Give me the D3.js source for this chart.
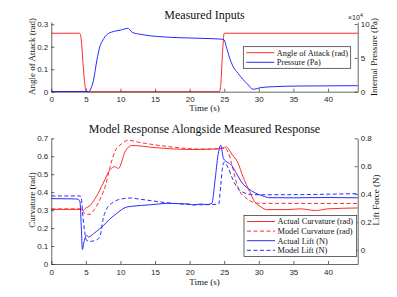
<!DOCTYPE html>
<html>
<head>
<meta charset="utf-8">
<script src="https://cdn.jsdelivr.net/npm/d3@7"></script>
<style>
  body { margin: 0; background: #fff; }
  svg { display: block; }
</style>
</head>
<body>
<svg id="chart" width="397" height="297"></svg>
<script>
// ---- data ----
const xTicks = [0, 5, 10, 15, 20, 25, 30, 35, 40];

// top panel: measured inputs
const aoaTime = [0, 4.1, 4.3, 4.6, 4.9, 5.1, 24.3, 24.5, 24.75, 25.0, 44.3];
const aoaValue = [0.26, 0.26, 0.24, 0.12, 0.02, 0, 0, 0.03, 0.17, 0.26, 0.26];
const pressureTime = [0, 5.4, 5.7, 6.1, 6.6, 7.0, 7.5, 8.0, 9.0, 10.0, 11.1, 11.4, 11.7, 12.9, 15.7, 21.5,
  24.4, 25.0, 25.3, 25.8, 26.3, 27.0, 27.7, 28.5, 29.05, 29.4, 30.2, 32.1, 35.9, 44.3];
const pressureValue = [300, 300, 4000, 17000, 47000, 66000, 77000, 84000, 89000, 91000, 93600, 91000, 87700, 84800, 81300, 78900,
  77800, 76400, 66500, 49300, 36900, 27200, 18300, 9900, 4000, 3800, 5900, 7400, 8400, 8900];
const leftTopTicks = [0, 0.1, 0.2, 0.3];
const rightTopTicks = [0, 50000, 100000];

// bottom panel: model vs measured response
const curvTime = [0, 4.3, 4.6, 5.0, 5.5, 6.5, 7.5, 8.5, 9.2, 9.7, 10.7, 11.6, 15, 20, 21.5,
  24.8, 25.3, 26.1, 27.0, 27.7, 28.7, 29.4, 30.4, 31.1, 34, 36, 38.2, 40, 44.3];
const curvValue = [0.304, 0.304, 0.298, 0.312, 0.322, 0.375, 0.45, 0.525, 0.542, 0.532, 0.628, 0.66, 0.648, 0.638, 0.638,
  0.643, 0.652, 0.612, 0.562, 0.487, 0.402, 0.347, 0.316, 0.303, 0.303, 0.307, 0.298, 0.307, 0.312];
const modelCurvTime = [0, 4.4, 4.9, 5.6, 6.2, 7.0, 7.8, 8.5, 9.2, 10.2, 11.1, 12.8, 16.7, 21.5,
  24.5, 25.0, 25.6, 26.3, 26.8, 27.3, 28.0, 29.0, 30.0, 44.3];
const modelCurvValue = [0.307, 0.307, 0.277, 0.277, 0.302, 0.357, 0.432, 0.542, 0.627, 0.67, 0.689, 0.677, 0.655, 0.64,
  0.642, 0.65, 0.619, 0.525, 0.45, 0.402, 0.372, 0.347, 0.338, 0.337];
const liftTime = [0, 3.5, 4.0, 4.15, 4.35, 4.5, 4.7, 5.1, 5.4, 6.1, 7.0, 7.5, 8.5, 9.4, 10.9, 11.8, 14.3, 16.7, 20.0, 20.5, 21.5,
  22.5, 23.2, 23.7, 24.1, 24.5, 24.9, 25.4, 26.1, 26.8, 27.5, 28.5, 29.4, 30.6, 31.5, 35, 40, 44.3];
const liftValue = [0.368, 0.366, 0.359, 0.344, 0.15, 0.004, 0.05, 0.104, 0.094, 0.117, 0.152, 0.174, 0.224, 0.26, 0.308, 0.314, 0.324, 0.334, 0.329, 0.322, 0.329,
  0.326, 0.334, 0.511, 0.678, 0.75, 0.654, 0.631, 0.604, 0.547, 0.487, 0.439, 0.411, 0.387, 0.375, 0.374, 0.376, 0.374];
const modelLiftTime = [0, 4.2, 4.35, 4.6, 4.85, 5.1, 5.6, 6.6, 7.0, 7.2, 7.5, 8.0, 9.0, 10.4, 11.4, 12.8, 16.7, 21.5,
  24.2, 24.5, 24.8, 25.0, 25.6, 26.3, 27.0, 27.7, 29.2, 33, 44.3];
const modelLiftValue = [0.387, 0.387, 0.368, 0.224, 0.124, 0.069, 0.062, 0.074, 0.094, 0.134, 0.224, 0.294, 0.344, 0.368, 0.372, 0.364, 0.339, 0.324,
  0.329, 0.464, 0.604, 0.629, 0.584, 0.499, 0.439, 0.414, 0.396, 0.396, 0.404];
const leftBotTicks = [0, 0.1, 0.2, 0.3, 0.4, 0.5, 0.6, 0.7];
const rightBotTicks = [0, 0.2, 0.4, 0.6, 0.8];

const RED = "#ff2a2a";
const BLUE = "#2a2aff";
const AXIS = "#262626";
const serif = "'Liberation Serif', 'DejaVu Serif', serif";
const sans = "'Liberation Sans', Arial, sans-serif";

const svg = d3.select("#chart");
const zip = (ts, vs) => ts.map((t, i) => ({ t, v: vs[i] }));

const x = d3.scaleLinear().domain([0, 44.3]).range([51.3, 357.7]);

function drawAxes(g, yL, yR, leftTicks, rightTicks, rightFmt) {
  const y0 = yL.range()[0];
  g.append("g")
    .attr("transform", `translate(0,${y0})`)
    .call(d3.axisBottom(x).tickValues(xTicks).tickSizeInner(-3).tickSizeOuter(0).tickPadding(5))
    .call(s => s.selectAll("text").attr("font-family", sans).attr("font-size", 8).attr("fill", AXIS));
  g.append("g")
    .attr("transform", `translate(${x.range()[0]},0)`)
    .call(d3.axisLeft(yL).tickValues(leftTicks).tickSizeInner(-3).tickSizeOuter(0).tickPadding(3).tickFormat(d3.format("~g")))
    .call(s => s.selectAll("text").attr("font-family", sans).attr("font-size", 8).attr("fill", AXIS));
  g.append("g")
    .attr("transform", `translate(${x.range()[1]},0)`)
    .call(d3.axisRight(yR).tickValues(rightTicks).tickSizeInner(-3).tickSizeOuter(0).tickPadding(3).tickFormat(rightFmt))
    .call(s => s.selectAll("text").attr("font-family", sans).attr("font-size", 8).attr("fill", AXIS));
  g.selectAll(".domain, .tick line").attr("stroke", AXIS).attr("stroke-width", 0.7);
}

function drawLine(g, data, y, color, dashed) {
  g.append("path")
    .datum(data)
    .attr("fill", "none")
    .attr("stroke", color)
    .attr("stroke-width", 1)
    .attr("stroke-dasharray", dashed ? "4,2.5" : null)
    .attr("d", d3.line().x(d => x(d.t)).y(d => y(d.v)).curve(d3.curveMonotoneX));
}

function drawLegend(g, x0, y0, w, h, entries) {
  g.append("rect").attr("x", x0).attr("y", y0).attr("width", w).attr("height", h)
    .attr("fill", "#fff").attr("stroke", AXIS).attr("stroke-width", 0.7);
  entries.forEach((e, i) => {
    const yy = y0 + 6 + i * 9.6;
    g.append("line").attr("x1", x0 + 3).attr("x2", x0 + 31).attr("y1", yy).attr("y2", yy)
      .attr("stroke", e.color).attr("stroke-width", 1).attr("stroke-dasharray", e.dashed ? "4,2.5" : null);
    g.append("text").attr("x", x0 + 33.5).attr("y", yy + 2.9).attr("font-family", serif)
      .attr("font-size", 8.3).attr("fill", "#111").text(e.label);
  });
}

function label(text, xx, yy, size, rotate) {
  svg.append("text")
    .attr("transform", `translate(${xx},${yy})` + (rotate ? " rotate(-90)" : ""))
    .attr("text-anchor", "middle")
    .attr("font-family", serif).attr("font-size", size).attr("fill", "#111")
    .text(text);
}

// ---- top panel ----
const topPanel = svg.append("g");
const yTopL = d3.scaleLinear().domain([0, 0.31]).range([91.7, 22]);
const yTopR = d3.scaleLinear().domain([0, 103000]).range([91.7, 22]);
drawLine(topPanel, zip(aoaTime, aoaValue), yTopL, RED, false);
drawLine(topPanel, zip(pressureTime, pressureValue), yTopR, BLUE, false);
drawAxes(topPanel, yTopL, yTopR, leftTopTicks, rightTopTicks, d => d / 10000);
drawLegend(topPanel, 243.3, 46.7, 107.4, 21.6, [
  { label: "Angle of Attack (rad)", color: RED },
  { label: "Pressure (Pa)", color: BLUE }
]);
label("Measured Inputs", 204.5, 18.5, 12);
label("Time (s)", 204.5, 111, 9);
label("Angle of Attack (rad)", 35, 56.5, 9, true);
label("Internal Pressure (Pa)", 377, 57, 9, true);
svg.append("text").attr("x", 348).attr("y", 19.5).attr("font-family", sans).attr("font-size", 7).attr("fill", AXIS)
  .text("\u00d710").append("tspan").attr("dy", -3).attr("font-size", 5.5).text("4");

// ---- bottom panel ----
const botPanel = svg.append("g");
const yBotL = d3.scaleLinear().domain([0, 0.7]).range([264, 138.3]);
const yBotR = d3.scaleLinear().domain([-0.1, 0.8]).range([264, 138.3]);
drawLine(botPanel, zip(curvTime, curvValue), yBotL, RED, false);
drawLine(botPanel, zip(modelCurvTime, modelCurvValue), yBotL, RED, true);
drawLine(botPanel, zip(liftTime, liftValue), yBotR, BLUE, false);
drawLine(botPanel, zip(modelLiftTime, modelLiftValue), yBotR, BLUE, true);
drawAxes(botPanel, yBotL, yBotR, leftBotTicks, rightBotTicks, d3.format("~g"));
drawLegend(botPanel, 244, 215.5, 112.7, 41, [
  { label: "Actual Curvature (rad)", color: RED },
  { label: "Model Curvature (rad)", color: RED, dashed: true },
  { label: "Actual Lift (N)", color: BLUE },
  { label: "Model Lift (N)", color: BLUE, dashed: true }
]);
label("Model Response Alongside Measured Response", 204.5, 133, 12);
label("Time (s)", 204.5, 284.5, 9);
label("Curvature (rad)", 35, 200, 9, true);
label("Lift Force (N)", 379, 200, 9, true);
</script>
</body>
</html>
